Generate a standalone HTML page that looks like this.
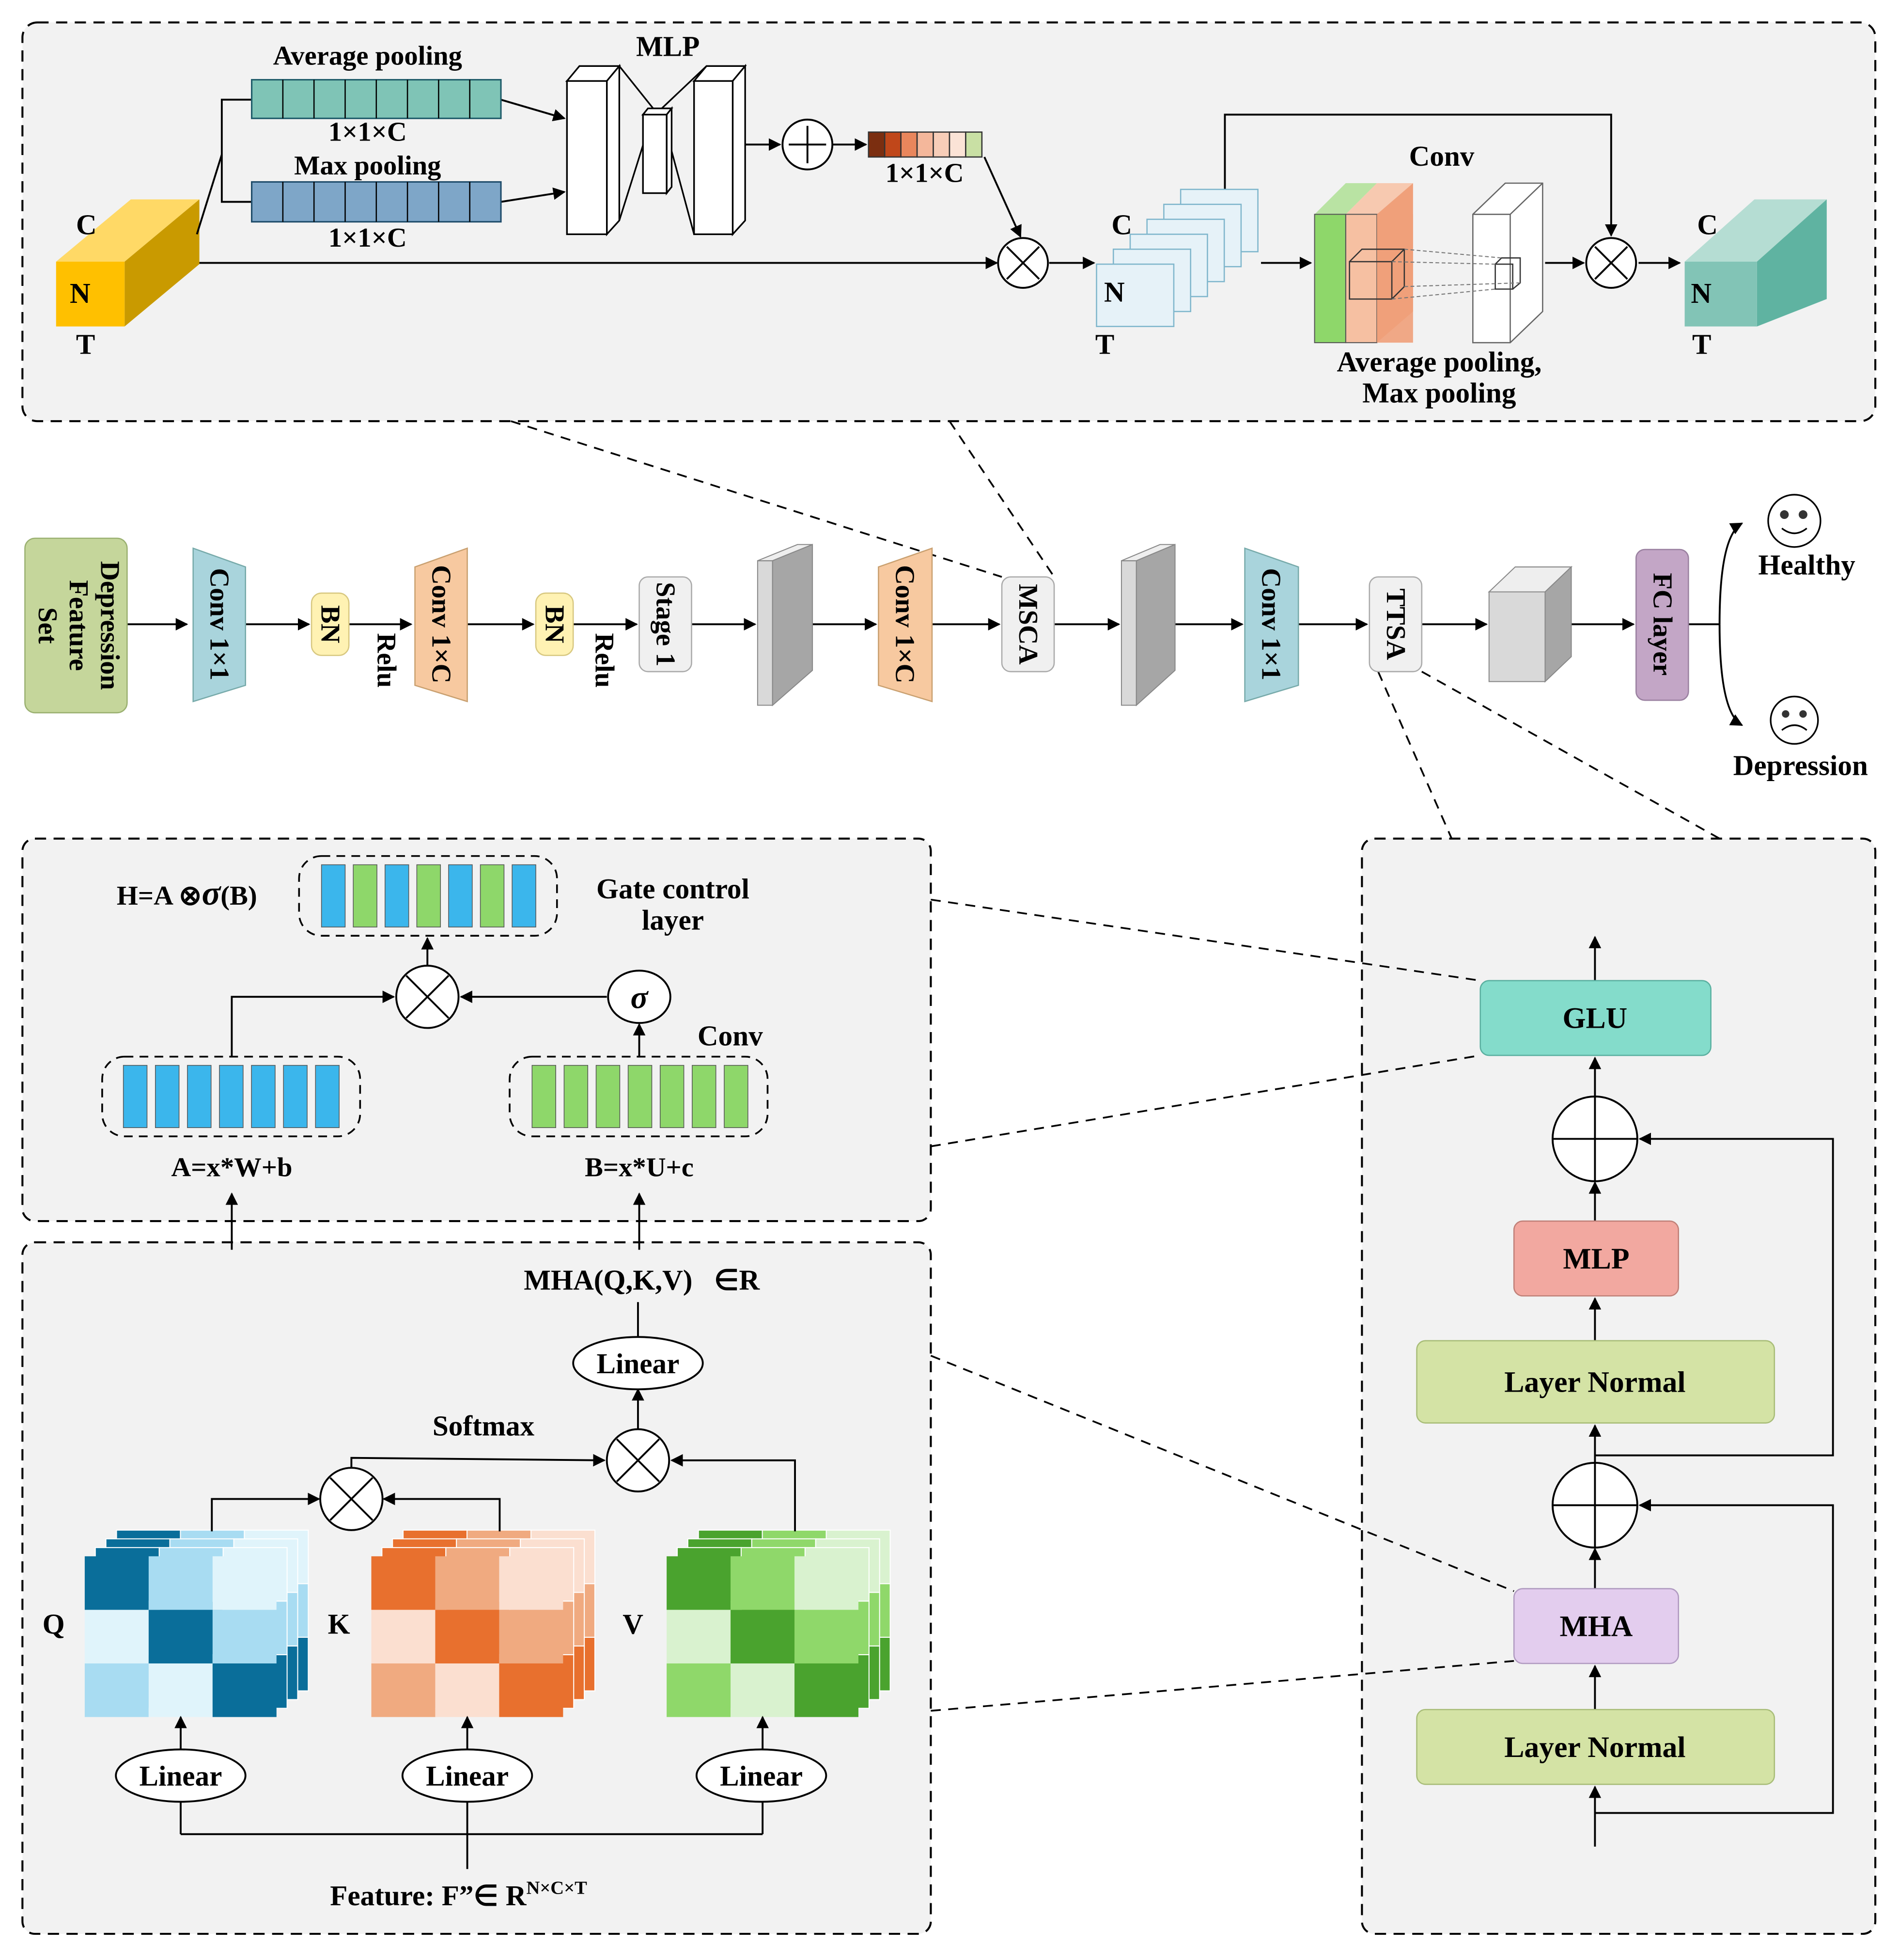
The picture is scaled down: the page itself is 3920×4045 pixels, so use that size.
<!DOCTYPE html>
<html><head><meta charset="utf-8"><style>
html,body{margin:0;padding:0;background:#fff}
svg{display:block}
text{font-family:"Liberation Serif",serif;font-weight:bold;fill:#000}
</style></head><body>
<svg id="s" width="3920" height="4045" viewBox="0 0 1524 1573" preserveAspectRatio="none" xmlns="http://www.w3.org/2000/svg">
<defs>
<marker id="a" markerWidth="10" markerHeight="10" refX="9" refY="5" orient="auto" markerUnits="userSpaceOnUse"><path d="M0,0 L10,5 L0,10 z" fill="#000"/></marker>
</defs>
<rect width="1524" height="1573" fill="#fff"/>
<g fill="#f2f2f2" stroke="#000" stroke-width="1.6" stroke-dasharray="9,6">
<rect x="18" y="18" width="1487" height="320" rx="12"/>
<rect x="18" y="673" width="729" height="307" rx="10"/>
<rect x="18" y="997" width="729" height="555" rx="10"/>
<rect x="1093" y="673" width="412" height="879" rx="10"/>
</g>
<g stroke="#000" stroke-width="1.4" stroke-dasharray="8,6" fill="none">
<line x1="410" y1="338" x2="804" y2="463"/>
<line x1="762" y1="338" x2="846" y2="463"/>
<line x1="1106" y1="539" x2="1165" y2="673"/>
<line x1="1141" y1="539" x2="1380" y2="673"/>
<line x1="747" y1="722" x2="1188" y2="787"/>
<line x1="747" y1="920" x2="1188" y2="847"/>
<line x1="747" y1="1088" x2="1215" y2="1277"/>
<line x1="747" y1="1373" x2="1215" y2="1333"/>
</g>

<polygon points="45,210 100,210 160,160 105,160" fill="#ffd966"/>
<polygon points="100,210 160,160 160,212 100,262" fill="#c99a00"/>
<rect x="45" y="210" width="55" height="52" fill="#ffc000"/>
<text x="61" y="188" font-size="23">C</text><text x="56" y="243" font-size="23">N</text><text x="61" y="284" font-size="23">T</text>
<g stroke="#000" stroke-width="1.5" fill="none">
<polyline points="158,188 178,124"/>
<polyline points="202,80 178,80 178,162 202,162"/>
<line x1="160" y1="211" x2="800" y2="211" marker-end="url(#a)"/>
<line x1="402" y1="80" x2="453" y2="95" marker-end="url(#a)"/>
<line x1="402" y1="162" x2="453" y2="154" marker-end="url(#a)"/>
<line x1="598" y1="116" x2="626" y2="116" marker-end="url(#a)"/>
<line x1="668" y1="116" x2="695" y2="116" marker-end="url(#a)"/>
<line x1="790" y1="126" x2="819" y2="190" marker-end="url(#a)"/>
<line x1="842" y1="211" x2="878" y2="211" marker-end="url(#a)"/>
<polyline points="983,152 983,92 1293,92 1293,189" marker-end="url(#a)"/>
<line x1="1012" y1="211" x2="1052" y2="211" marker-end="url(#a)"/>
<line x1="1240" y1="211" x2="1271" y2="211" marker-end="url(#a)"/>
<line x1="1315" y1="211" x2="1348" y2="211" marker-end="url(#a)"/>
</g>
<rect x="202" y="64" width="200" height="31" fill="#7fc4b6" stroke="#1f5c6a" stroke-width="1.2"/>
<rect x="202" y="146" width="200" height="32" fill="#7ea6c8" stroke="#1f4c6a" stroke-width="1.2"/>
<g id="barlines" stroke="#000" stroke-width="1"></g>
<text x="295" y="52" font-size="22" text-anchor="middle">Average pooling</text>
<text x="295" y="113" font-size="22" text-anchor="middle">1×1×C</text>
<text x="295" y="140" font-size="22" text-anchor="middle">Max pooling</text>
<text x="295" y="198" font-size="22" text-anchor="middle">1×1×C</text>
<text x="536" y="45" font-size="23" text-anchor="middle">MLP</text>
<g fill="#fff" stroke="#000" stroke-width="1.3">
<polygon points="455,65 465,53 497,53 487,65"/><polygon points="487,65 497,53 497,177 487,188"/><rect x="455" y="65" width="32" height="123"/>
<polyline points="497,53 525,88 497,177" fill="none"/><polyline points="567,53 530,88 557,188" fill="none"/>
<polygon points="516,92 520,87 539,87 535,92"/><polygon points="535,92 539,87 539,150 535,155"/><rect x="516" y="92" width="19" height="63"/>
<polygon points="557,65 567,53 598,53 588,65"/><polygon points="588,65 598,53 598,177 588,188"/><rect x="557" y="65" width="31" height="123"/>
</g>
<g fill="#fff" stroke="#000" stroke-width="1.5">
<circle cx="648" cy="116" r="20"/><circle cx="821" cy="211" r="20"/><circle cx="1293" cy="211" r="20"/>
</g>
<g stroke="#000" stroke-width="1.5">
<line x1="648" y1="101" x2="648" y2="131"/><line x1="633" y1="116" x2="663" y2="116"/>
<line x1="808" y1="198" x2="834" y2="224"/><line x1="834" y1="198" x2="808" y2="224"/>
<line x1="1280" y1="198" x2="1306" y2="224"/><line x1="1306" y1="198" x2="1280" y2="224"/>
</g>
<g stroke="#333" stroke-width="1">
<rect x="697" y="106" width="13" height="20" fill="#7b2e10"/><rect x="710" y="106" width="13" height="20" fill="#c0471a"/>
<rect x="723" y="106" width="13" height="20" fill="#e9865c"/><rect x="736" y="106" width="13" height="20" fill="#f4b79b"/>
<rect x="749" y="106" width="13" height="20" fill="#f7cdb8"/><rect x="762" y="106" width="13" height="20" fill="#fbe3d6"/>
<rect x="775" y="106" width="13" height="20" fill="#c9e0a4"/>
</g>
<text x="742" y="146" font-size="22" text-anchor="middle">1×1×C</text>
<g id="stack" fill="#e6f2f8" stroke="#7fb6cc" stroke-width="1"></g>
<text x="892" y="188" font-size="23">C</text><text x="886" y="242" font-size="23">N</text><text x="879" y="284" font-size="23">T</text>
<polygon points="1055,172 1080,147 1105,147 1080,172" fill="#b9e3a3"/>
<polygon points="1080,172 1105,147 1134,147 1105,172" fill="#f7c9b0"/>
<polygon points="1105,172 1134,147 1134,250 1105,275" fill="#f0a07a"/>
<rect x="1055" y="172" width="25" height="103" fill="#8ed76a" stroke="#555" stroke-width="0.8"/>
<rect x="1080" y="172" width="25" height="103" fill="#f6c0a2" stroke="#555" stroke-width="0.8"/>
<rect x="1105" y="172" width="29" height="103" fill="#f0a07a" opacity="0.9"/>
<g fill="none" stroke="#333" stroke-width="1">
<rect x="1083" y="210" width="34" height="30"/><polyline points="1083,210 1093,200 1127,200 1127,230 1117,240"/><line x1="1117" y1="210" x2="1127" y2="200"/>
<polygon points="1182,172 1208,147 1238,147 1238,250 1212,275 1182,275" fill="#fff" stroke="#666"/><line x1="1212" y1="172" x2="1212" y2="275" stroke="#666"/><line x1="1182" y1="172" x2="1212" y2="172" stroke="#666"/><line x1="1212" y1="172" x2="1238" y2="147" stroke="#666"/>
<rect x="1200" y="212" width="14" height="20"/><polyline points="1200,212 1205,207 1220,207 1220,227 1214,232"/>
</g>
<g stroke="#777" stroke-width="0.8" stroke-dasharray="3,2">
<line x1="1127" y1="200" x2="1205" y2="207"/><line x1="1117" y1="210" x2="1200" y2="212"/><line x1="1127" y1="230" x2="1220" y2="227"/><line x1="1117" y1="240" x2="1200" y2="232"/>
</g>
<text x="1157" y="133" font-size="23" text-anchor="middle">Conv</text>
<text x="1155" y="298" font-size="23" text-anchor="middle">Average pooling,</text>
<text x="1155" y="323" font-size="23" text-anchor="middle">Max pooling</text>
<polygon points="1352,210 1410,210 1466,160 1408,160" fill="#b5ddd3"/>
<polygon points="1410,210 1466,160 1466,240 1410,262" fill="#5fb3a1"/>
<rect x="1352" y="210" width="58" height="52" fill="#82c4b6"/>
<text x="1362" y="188" font-size="23">C</text><text x="1357" y="243" font-size="23">N</text><text x="1358" y="284" font-size="23">T</text>

<g stroke="#000" stroke-width="1.5">
<line x1="102" y1="501" x2="150" y2="501" marker-end="url(#a)"/>
<line x1="197" y1="501" x2="248" y2="501" marker-end="url(#a)"/>
<line x1="280" y1="501" x2="330" y2="501" marker-end="url(#a)"/>
<line x1="375" y1="501" x2="428" y2="501" marker-end="url(#a)"/>
<line x1="460" y1="501" x2="511" y2="501" marker-end="url(#a)"/>
<line x1="555" y1="501" x2="606" y2="501" marker-end="url(#a)"/>
<line x1="652" y1="501" x2="703" y2="501" marker-end="url(#a)"/>
<line x1="748" y1="501" x2="802" y2="501" marker-end="url(#a)"/>
<line x1="846" y1="501" x2="898" y2="501" marker-end="url(#a)"/>
<line x1="943" y1="501" x2="997" y2="501" marker-end="url(#a)"/>
<line x1="1042" y1="501" x2="1097" y2="501" marker-end="url(#a)"/>
<line x1="1141" y1="501" x2="1193" y2="501" marker-end="url(#a)"/>
<line x1="1261" y1="501" x2="1311" y2="501" marker-end="url(#a)"/>
<line x1="1355" y1="501" x2="1380" y2="501"/>
</g>
<path d="M1380,501 Q1380,430 1398,420" stroke="#000" stroke-width="1.5" fill="none" marker-end="url(#a)"/>
<path d="M1380,501 Q1380,572 1398,582" stroke="#000" stroke-width="1.5" fill="none" marker-end="url(#a)"/>
<rect x="20" y="432" width="82" height="140" rx="8" fill="#c5d69b" stroke="#9ab070"/>
<text transform="translate(61,502) rotate(90)" font-size="22" text-anchor="middle"><tspan x="0" y="-20">Depression</tspan><tspan x="0" y="5">Feature</tspan><tspan x="0" y="30">Set</tspan></text>
<g stroke="#7aa" stroke-width="1">
<polygon points="155,440 197,455 197,550 155,563" fill="#a9d4dc"/>
<polygon points="333,455 375,440 375,563 333,550" fill="#f7c9a0" stroke="#c9a070"/>
<polygon points="705,455 748,440 748,563 705,550" fill="#f7c9a0" stroke="#c9a070"/>
<polygon points="999,440 1042,455 1042,550 999,563" fill="#a9d4dc"/>
</g>
<rect x="250" y="476" width="30" height="50" rx="8" fill="#fff2b3" stroke="#d8c880"/>
<rect x="430" y="476" width="30" height="50" rx="8" fill="#fff2b3" stroke="#d8c880"/>
<rect x="513" y="463" width="42" height="76" rx="7" fill="#f0f0f0" stroke="#aaa"/>
<rect x="804" y="463" width="42" height="76" rx="7" fill="#f0f0f0" stroke="#aaa"/>
<rect x="1099" y="463" width="42" height="76" rx="7" fill="#f0f0f0" stroke="#aaa"/>
<rect x="1313" y="441" width="42" height="121" rx="7" fill="#c3a6c6" stroke="#9a80a0"/>
<g font-size="22" text-anchor="middle">
<text transform="translate(176,501) rotate(90)" y="7">Conv 1×1</text>
<text transform="translate(265,501) rotate(90)" y="7">BN</text>
<text transform="translate(310,530) rotate(90)" y="7">Relu</text>
<text transform="translate(354,501) rotate(90)" y="7">Conv 1×C</text>
<text transform="translate(445,501) rotate(90)" y="7">BN</text>
<text transform="translate(485,530) rotate(90)" y="7">Relu</text>
<text transform="translate(534,501) rotate(90)" y="7">Stage 1</text>
<text transform="translate(726,501) rotate(90)" y="7">Conv 1×C</text>
<text transform="translate(825,501) rotate(90)" y="7">MSCA</text>
<text transform="translate(1020,501) rotate(90)" y="7">Conv 1×1</text>
<text transform="translate(1120,501) rotate(90)" y="7">TTSA</text>
<text transform="translate(1334,501) rotate(90)" y="7">FC layer</text>
</g>
<g stroke="#888" stroke-width="0.8">
<polygon points="608,450 620,450 620,566 608,566" fill="#d9d9d9"/><polygon points="608,450 640,437 652,437 620,450" fill="#eee"/><polygon points="620,450 652,437 652,538 620,566" fill="#a6a6a6"/>
<polygon points="900,450 912,450 912,566 900,566" fill="#d9d9d9"/><polygon points="900,450 931,437 943,437 912,450" fill="#eee"/><polygon points="912,450 943,437 943,538 912,566" fill="#a6a6a6"/>
<rect x="1195" y="475" width="45" height="72" fill="#d9d9d9"/><polygon points="1195,475 1216,455 1261,455 1240,475" fill="#eee"/><polygon points="1240,475 1261,455 1261,527 1240,547" fill="#a6a6a6"/>
</g>
<g stroke="#000" stroke-width="1.3" fill="#fff">
<circle cx="1440" cy="418" r="21"/><circle cx="1440" cy="578" r="19"/>
</g>
<g fill="#333"><circle cx="1432" cy="413" r="3.5"/><circle cx="1447" cy="413" r="3.5"/><circle cx="1433" cy="573" r="3"/><circle cx="1447" cy="573" r="3"/></g>
<path d="M1430,424 Q1440,432 1450,424" stroke="#000" fill="none" stroke-width="1.3"/>
<path d="M1430,586 Q1440,578 1450,586" stroke="#000" fill="none" stroke-width="1.3"/>
<text x="1450" y="461" font-size="23" text-anchor="middle">Healthy</text>
<text x="1445" y="622" font-size="23" text-anchor="middle">Depression</text>

<g fill="none" stroke="#000" stroke-width="1.4" stroke-dasharray="7,5">
<rect x="240" y="687" width="207" height="64" rx="18"/>
<rect x="82" y="848" width="207" height="64" rx="18"/>
<rect x="409" y="848" width="207" height="64" rx="18"/>
</g>
<g id="gbars"></g>
<text x="150" y="726" font-size="22" text-anchor="middle">H=A ⊗<tspan font-style="italic" font-size="28">σ</tspan>(B)</text>
<text x="540" y="721" font-size="23" text-anchor="middle">Gate control</text>
<text x="540" y="746" font-size="23" text-anchor="middle">layer</text>
<text x="586" y="839" font-size="23" text-anchor="middle">Conv</text>
<text x="186" y="944" font-size="22" text-anchor="middle">A=x*W+b</text>
<text x="513" y="944" font-size="22" text-anchor="middle">B=x*U+c</text>
<g stroke="#000" stroke-width="1.5" fill="none">
<polyline points="186,848 186,800 316,800" marker-end="url(#a)"/>
<line x1="487" y1="800" x2="370" y2="800" marker-end="url(#a)"/>
<line x1="343" y1="775" x2="343" y2="753" marker-end="url(#a)"/>
<line x1="513" y1="848" x2="513" y2="822" marker-end="url(#a)"/>
<line x1="186" y1="1003" x2="186" y2="958" marker-end="url(#a)"/>
<line x1="513" y1="1003" x2="513" y2="958" marker-end="url(#a)"/>
</g>
<circle cx="343" cy="800" r="25" fill="#fff" stroke="#000" stroke-width="1.5"/>
<line x1="326" y1="783" x2="360" y2="817" stroke="#000" stroke-width="1.5"/><line x1="360" y1="783" x2="326" y2="817" stroke="#000" stroke-width="1.5"/>
<ellipse cx="513" cy="800" rx="25" ry="21" fill="#fff" stroke="#000" stroke-width="1.5"/>
<text x="513" y="809" font-size="26" font-style="italic" text-anchor="middle">σ</text>

<g id="mats"></g>
<text x="43" y="1311" font-size="23" text-anchor="middle">Q</text>
<text x="272" y="1311" font-size="23" text-anchor="middle">K</text>
<text x="508" y="1311" font-size="23" text-anchor="middle">V</text>
<g stroke="#000" stroke-width="1.5" fill="none">
<polyline points="145,1472 145,1378" marker-end="url(#a)"/>
<polyline points="145,1472 612,1472"/>
<line x1="375" y1="1500" x2="375" y2="1378" marker-end="url(#a)"/>
<line x1="612" y1="1472" x2="612" y2="1378" marker-end="url(#a)"/>
<polyline points="170,1229 170,1203 256,1203" marker-end="url(#a)"/>
<polyline points="401,1229 401,1203 308,1203" marker-end="url(#a)"/>
<polyline points="282,1178 282,1170 485,1172" marker-end="url(#a)"/>
<polyline points="638,1229 638,1172 539,1172" marker-end="url(#a)"/>
<line x1="512" y1="1148" x2="512" y2="1115" marker-end="url(#a)"/>
<line x1="512" y1="1073" x2="512" y2="1045"/>
</g>
<g fill="#fff" stroke="#000" stroke-width="1.5">
<ellipse cx="145" cy="1425" rx="52" ry="21"/><ellipse cx="375" cy="1425" rx="52" ry="21"/><ellipse cx="611" cy="1425" rx="52" ry="21"/>
<ellipse cx="512" cy="1094" rx="52" ry="21"/>
<circle cx="282" cy="1203" r="25"/><circle cx="512" cy="1172" r="25"/>
</g>
<g stroke="#000" stroke-width="1.5">
<line x1="265" y1="1186" x2="299" y2="1220"/><line x1="299" y1="1186" x2="265" y2="1220"/>
<line x1="495" y1="1155" x2="529" y2="1189"/><line x1="529" y1="1155" x2="495" y2="1189"/>
</g>
<g font-size="23" text-anchor="middle">
<text x="145" y="1433">Linear</text><text x="375" y="1433">Linear</text><text x="611" y="1433">Linear</text><text x="512" y="1102">Linear</text>
<text x="388" y="1152">Softmax</text>
<text x="515" y="1035">MHA(Q,K,V)&#160;&#160;&#160;∈R</text>
<text x="368" y="1529">Feature: F”∈ R<tspan font-size="15" dy="-9">N×C×T</tspan></text>
</g>

<g stroke="#000" stroke-width="1.5" fill="none">
<line x1="1280" y1="1482" x2="1280" y2="1434" marker-end="url(#a)"/>
<line x1="1280" y1="1372" x2="1280" y2="1337" marker-end="url(#a)"/>
<line x1="1280" y1="1275" x2="1280" y2="1243" marker-end="url(#a)"/>
<line x1="1280" y1="1174" x2="1280" y2="1144" marker-end="url(#a)"/>
<line x1="1280" y1="1076" x2="1280" y2="1042" marker-end="url(#a)"/>
<line x1="1280" y1="980" x2="1280" y2="949" marker-end="url(#a)"/>
<line x1="1280" y1="880" x2="1280" y2="849" marker-end="url(#a)"/>
<line x1="1280" y1="787" x2="1280" y2="752" marker-end="url(#a)"/>
<polyline points="1280,1455 1471,1455 1471,1208 1316,1208" marker-end="url(#a)"/>
<polyline points="1280,1168 1471,1168 1471,914 1316,914" marker-end="url(#a)"/>
</g>
<g stroke-width="1">
<rect x="1188" y="787" width="185" height="60" rx="7" fill="#84dccb" stroke="#5ab0a0"/>
<rect x="1215" y="980" width="132" height="60" rx="7" fill="#f2a8a0" stroke="#c08078"/>
<rect x="1137" y="1076" width="287" height="66" rx="7" fill="#d4e3a5" stroke="#a8bd78"/>
<rect x="1215" y="1275" width="132" height="60" rx="7" fill="#e3cdee" stroke="#b09ac0"/>
<rect x="1137" y="1372" width="287" height="60" rx="7" fill="#d4e3a5" stroke="#a8bd78"/>
</g>
<g fill="#fff" stroke="#000" stroke-width="1.5">
<circle cx="1280" cy="914" r="34"/><circle cx="1280" cy="1208" r="34"/>
</g>
<g stroke="#000" stroke-width="1.5">
<line x1="1280" y1="880" x2="1280" y2="948"/><line x1="1246" y1="914" x2="1314" y2="914"/>
<line x1="1280" y1="1174" x2="1280" y2="1242"/><line x1="1246" y1="1208" x2="1314" y2="1208"/>
</g>
<g font-size="24" text-anchor="middle">
<text x="1280" y="825">GLU</text><text x="1281" y="1018">MLP</text><text x="1280" y="1117">Layer Normal</text>
<text x="1281" y="1313">MHA</text><text x="1280" y="1410">Layer Normal</text>
</g>
</svg>
<script>
var NS="http://www.w3.org/2000/svg";
function el(p,t,a){var e=document.createElementNS(NS,t);for(var k in a)e.setAttribute(k,a[k]);p.appendChild(e);return e;}
var bl=document.getElementById("barlines");
for(var i=1;i<8;i++){var x=202+i*25;el(bl,"line",{x1:x,y1:64,x2:x,y2:95});el(bl,"line",{x1:x,y1:146,x2:x,y2:178});}
var st=document.getElementById("stack");
for(var i=5;i>=0;i--){var x=880+i*13.5,y=212-i*12;el(st,"rect",{x:x,y:y,width:62,height:50});}
var g=document.getElementById("gbars");
var hc=["#3bb6ec","#8ed76a","#3bb6ec","#8ed76a","#3bb6ec","#8ed76a","#3bb6ec"];
for(var i=0;i<7;i++){el(g,"rect",{x:258+i*25.5,y:694,width:19,height:50,fill:hc[i],stroke:"#555","stroke-width":0.6});
el(g,"rect",{x:99+i*25.7,y:855,width:19,height:50,fill:"#3bb6ec",stroke:"#555","stroke-width":0.6});
el(g,"rect",{x:427+i*25.7,y:855,width:19,height:50,fill:"#8ed76a",stroke:"#555","stroke-width":0.6});}
var m=document.getElementById("mats");
var pat=[[0,1,2],[2,0,1],[1,2,0]];
var sets=[[68,["#0a6e9a","#a8dcf2","#e0f4fb"]],[298,["#e8702e","#f0aa80","#fbdfd0"]],[535,["#4aa32e","#8fd86a","#d9f2cf"]]];
sets.forEach(function(s){for(var l=3;l>=0;l--){var ox=s[0]+l*8.5,oy=1249-l*7;
for(var r=0;r<3;r++)for(var c=0;c<3;c++){var col=s[1][pat[r][c]];
el(m,"rect",{x:ox+c*51.3,y:oy+r*43,width:51.3,height:43,fill:col,stroke:l==0?"none":"#fff","stroke-width":0.8});}}});
</script>
</body></html>
